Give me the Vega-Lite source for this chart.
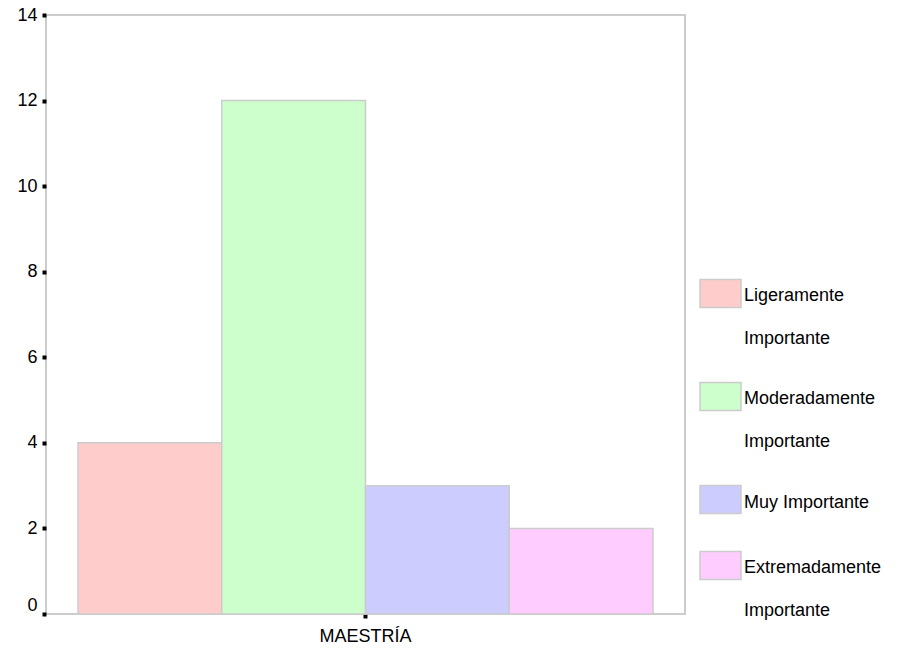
{
  "$schema": "https://vega.github.io/schema/vega-lite/v6.json",
  "autosize": {"type": "none"},
  "padding": {"left": 46, "top": 15, "right": 220, "bottom": 38},
  "width": 639,
  "height": 599,
  "background": "white",
  "config": {
    "font": "Liberation Sans",
    "view": {"stroke": "#cccccc", "strokeWidth": 2},
    "axis": {"grid": false, "domain": false, "labelFont": "Liberation Sans", "labelFontSize": 18, "labelColor": "#000000", "tickColor": "#000000", "tickSize": 4, "tickWidth": 4}
  },
  "data": {
    "values": [
      {"grupo": "MAESTRÍA", "nivel": "Ligeramente Importante", "n": 4},
      {"grupo": "MAESTRÍA", "nivel": "Moderadamente Importante", "n": 12},
      {"grupo": "MAESTRÍA", "nivel": "Muy Importante", "n": 3},
      {"grupo": "MAESTRÍA", "nivel": "Extremadamente Importante", "n": 2}
    ]
  },
  "mark": {"type": "bar", "stroke": "#cccccc", "strokeWidth": 1.5, "opacity": 1},
  "encoding": {
    "x": {"field": "grupo", "type": "nominal", "title": null, "scale": {"paddingInner": 0, "paddingOuter": 0.0557}, "axis": {"labelAngle": 0, "labelPadding": 9}},
    "xOffset": {"field": "nivel", "type": "nominal", "sort": null, "scale": {"paddingInner": 0, "paddingOuter": 0}},
    "y": {
      "field": "n", "type": "quantitative", "title": null,
      "scale": {"domain": [0, 14], "nice": false},
      "axis": {
        "values": [0, 2, 4, 6, 8, 10, 12, 14], "labelPadding": 5,
        "labelOffset": {"condition": {"test": "datum.value === 0", "value": -9}, "value": 0}
      }
    },
    "color": {
      "field": "nivel", "type": "nominal", "sort": null,
      "scale": {"domain": ["Ligeramente Importante", "Moderadamente Importante", "Muy Importante", "Extremadamente Importante"], "range": ["#ffcccc", "#ccffcc", "#ccccff", "#ffccff"]},
      "legend": {
        "title": null,
        "orient": "none",
        "legendX": 653,
        "legendY": 257,
        "symbolType": "M-1,-0.683L1,-0.683L1,0.683L-1,0.683Z",
        "symbolSize": 1681,
        "symbolStrokeColor": "#cccccc",
        "symbolStrokeWidth": 1.5,
        "symbolOpacity": 1,
        "labelFont": "Liberation Sans",
        "labelFontSize": 18,
        "labelColor": "#000000",
        "labelOffset": 2,
        "labelLimit": 300,
        "rowPadding": 27,
        "labelExpr": "datum.label == 'Muy Importante' ? datum.label : split(datum.label, ' ')",
        "encode": {"labels": {"update": {
          "lineHeight": {"value": 43},
          "baseline": {"signal": "datum.label == 'Muy Importante' ? 'bottom' : 'top'"},
          "dy": {"signal": "datum.label == 'Muy Importante' ? 12 : -7"}
        }}}
      }
    }
  }
}
